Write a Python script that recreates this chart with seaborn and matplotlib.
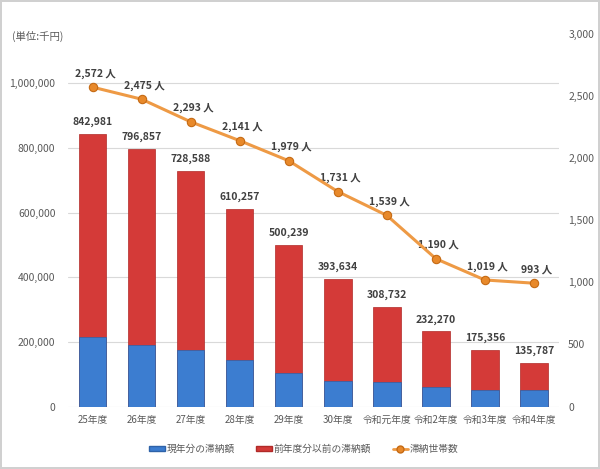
import numpy as np
import pandas as pd
import matplotlib
matplotlib.use("Agg")
import matplotlib.pyplot as plt
import seaborn as sns
from matplotlib.patches import Patch
from matplotlib.lines import Line2D

categories = ["25年度", "26年度", "27年度", "28年度", "29年度", "30年度",
              "令和元年度", "令和2年度", "令和3年度", "令和4年度"]
total_arrears = [842981, 796857, 728588, 610257, 500239, 393634, 308732, 232270, 175356, 135787]
current_year = [216000, 190000, 175000, 143000, 103000, 80000, 77000, 59000, 51000, 50000]
households = [2572, 2475, 2293, 2141, 1979, 1731, 1539, 1190, 1019, 993]
left_ticks = [0, 200000, 400000, 600000, 800000, 1000000]
right_ticks = [0, 500, 1000, 1500, 2000, 2500, 3000]

sns.set_theme(style="white")
plt.rcParams['font.family'] = ['Noto Sans CJK JP', 'DejaVu Sans']

RED = "#D43A38"
BLUE = "#3C7DD0"
ORANGE = "#EE9A45"
GRID = "#D9D9D9"
TXT = "#595959"
LBL = "#404040"

df = pd.DataFrame({"cat": categories, "total": total_arrears, "cur": current_year})

fig = plt.figure(figsize=(6.0, 4.69), dpi=100)
fig.patch.set_edgecolor("#D0D0D0")
fig.patch.set_linewidth(1.5)
ax = fig.add_axes([68/600, 1-406.5/469, (558.5-68)/600, (406.5-34)/469])

sns.barplot(data=df, x="cat", y="total", color=RED, width=0.56, ax=ax,
            saturation=1, edgecolor="#B02A28", linewidth=0.5, zorder=2)
sns.barplot(data=df, x="cat", y="cur", color=BLUE, width=0.56, ax=ax,
            saturation=1, edgecolor="#2E62A8", linewidth=0.5, zorder=3)

ax.set_ylim(0, 1153000)
ax.set_xlim(-0.5, len(categories) - 0.5)
ax.set_yticks(left_ticks)
ax.set_yticklabels([f"{v:,}" for v in left_ticks], fontsize=7.5, color=TXT)
ax.tick_params(axis="y", length=0, pad=9)
ax.tick_params(axis="x", length=0, pad=6, labelsize=7, labelcolor=TXT)
ax.set_xlabel("")
ax.set_ylabel("")
for v in left_ticks:
    ax.axhline(v, color=GRID, lw=0.8, zorder=0)
for s in ax.spines.values():
    s.set_visible(False)

for i, t in enumerate(total_arrears):
    ax.annotate(f"{t:,}", (i, t), xytext=(0, 5), textcoords="offset points",
                ha="center", va="bottom", fontsize=7.5, fontweight="bold", color=LBL)

ax2 = ax.twinx()
sns.lineplot(x=np.arange(len(categories)), y=households, ax=ax2, color=ORANGE,
             lw=2.2, marker="o", markersize=6, markerfacecolor="#E8892A",
             markeredgecolor="#C56A14", markeredgewidth=0.8, zorder=5)
ax2.set_ylim(0, 3000)
ax2.set_xlim(-0.5, len(categories) - 0.5)
ax2.set_yticks(right_ticks)
ax2.set_yticklabels([f"{v:,}" for v in right_ticks], fontsize=7.5, color=TXT)
ax2.tick_params(axis="y", length=0, pad=7)
ax2.set_ylabel("")
ax2.grid(False)
for s in ax2.spines.values():
    s.set_visible(False)

for i, h in enumerate(households):
    ax2.annotate(f"{h:,} 人", (i, h), xytext=(2, 6), textcoords="offset points",
                 ha="center", va="bottom", fontsize=7.5, fontweight="bold", color=LBL)

fig.text(12/600, 1-36/469, "(単位:千円)", fontsize=7.5, color=TXT, va="center", ha="left")

handles = [Patch(facecolor=BLUE, edgecolor="#2E62A8"),
           Patch(facecolor=RED, edgecolor="#B02A28"),
           Line2D([0], [0], color=ORANGE, lw=2, marker="o", markersize=5,
                  markerfacecolor="#E8892A", markeredgecolor="#C56A14")]
labels = ["現年分の滞納額", "前年度分以前の滞納額", "滞納世帯数"]
leg = fig.legend(handles, labels, loc="center", bbox_to_anchor=(304/600, 1-449/469),
                 ncol=3, frameon=False, fontsize=7, handlelength=1.6, handleheight=0.4,
                 columnspacing=2.2, handletextpad=0.2, labelcolor=TXT)

fig.savefig("out.png", dpi=100, edgecolor=fig.get_edgecolor())
